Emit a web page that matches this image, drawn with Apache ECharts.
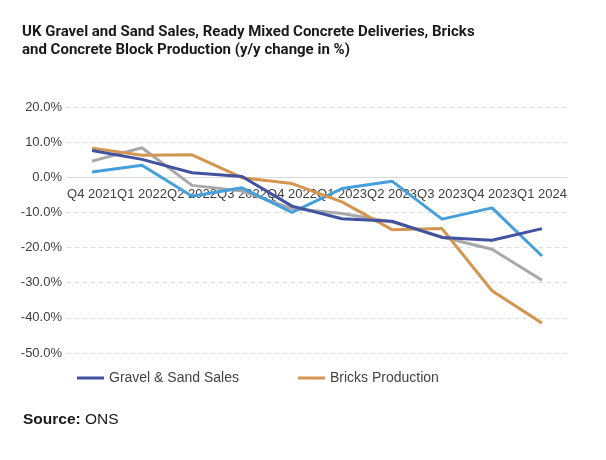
<!DOCTYPE html>
<html><head><meta charset="utf-8">
<script src="https://cdn.jsdelivr.net/npm/echarts@6/dist/echarts.min.js"></script>
<style>html,body{margin:0;padding:0;background:#fff}#c{width:606px;height:460px}</style>
</head><body><div id="c"></div>
<script>
const categories = ['Q4 2021','Q1 2022','Q2 2022','Q3 2022','Q4 2022','Q1 2023','Q2 2023','Q3 2023','Q4 2023','Q1 2024'];
const gravelSand = [7.6, 5.1, 1.3, 0.2, -8.2, -11.8, -12.5, -17.1, -17.9, -14.6];
const bricks = [8.3, 6.3, 6.4, -0.1, -1.8, -7.0, -14.9, -14.6, -32.3, -41.5];
const readyMixed = [1.5, 3.4, -5.4, -3.0, -10.0, -3.2, -1.1, -11.9, -8.7, -22.4];
const concreteBlocks = [4.6, 8.4, -2.3, -3.9, -8.9, -10.3, -12.7, -17.0, -20.5, -29.3];
const yTicks = {min: -50, max: 20, interval: 10};

const chart = echarts.init(document.getElementById('c'));
const font = 'Liberation Sans, Arial, sans-serif';
function ser(name, data, color, z) {
  return {name, type: 'line', data, symbol: 'none', z,
    lineStyle: {width: 3, color}, itemStyle: {color}};
}
chart.setOption({
  animation: false,
  title: [{
    text: 'UK Gravel and Sand Sales, Ready Mixed Concrete Deliveries, Bricks\nand Concrete Block Production (y/y change in %)',
    left: 22, top: 23, padding: 0,
    textStyle: {fontFamily: 'Roboto, sans-serif', fontWeight: 'bold', fontSize: 15, lineHeight: 18, color: '#1a1a1a'}
  }, {
    text: '{b|Source:} ONS', left: 23, top: 412, padding: 0,
    textStyle: {fontFamily: font, fontWeight: 'normal', fontSize: 15.5, color: '#1a1a1a',
      rich: {b: {fontFamily: font, fontWeight: 'bold', fontSize: 15.5, color: '#1a1a1a'}}}
  }],
  legend: {
    data: ['Gravel & Sand Sales', 'Bricks Production'],
    left: 77, top: 371, padding: 0, itemGap: 59, itemWidth: 27, itemHeight: 3,
    icon: 'rect',
    textStyle: {fontFamily: font, fontSize: 14, color: '#444'}
  },
  grid: {left: 67, right: 39, top: 107, bottom: 107},
  xAxis: [{
    type: 'category', data: categories, boundaryGap: true,
    axisLine: {show: true, onZero: true, lineStyle: {color: '#d9d9d9', width: 1}},
    axisTick: {show: false},
    axisLabel: {show: false}
  }, {
    type: 'category', data: categories, boundaryGap: true, position: 'bottom', offset: -176,
    axisLine: {show: false}, axisTick: {show: false}, splitLine: {show: false},
    axisLabel: {interval: 0, fontFamily: font, fontSize: 13, color: '#404040', margin: 11, hideOverlap: false}
  }],
  yAxis: {
    type: 'value', min: yTicks.min, max: yTicks.max, interval: yTicks.interval,
    axisLabel: {formatter: v => v.toFixed(1) + '%', fontFamily: font, fontSize: 13, color: '#404040', margin: 5},
    splitLine: {lineStyle: {type: [4, 4], color: '#d9d9d9'}},
    axisLine: {show: false}, axisTick: {show: false}
  },
  series: [
    ser('Concrete Block Production', concreteBlocks, '#a8a8aa', 2),
    ser('Ready Mixed Concrete Deliveries', readyMixed, '#459fdb', 3),
    ser('Bricks Production', bricks, '#d49550', 4),
    ser('Gravel & Sand Sales', gravelSand, '#4152a0', 5)
  ]
});
</script></body></html>
